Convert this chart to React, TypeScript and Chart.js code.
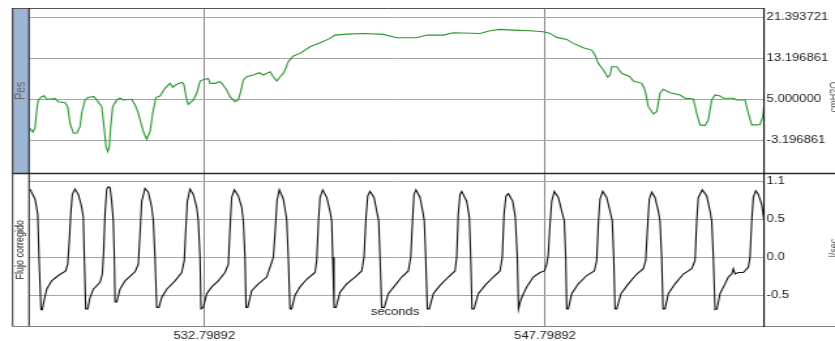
import React, { useEffect, useRef } from 'react';
import { Chart, registerables } from 'chart.js';

Chart.register(...registerables);

// internal canvas is narrower and stretched by CSS to 835px (reference looks horizontally stretched)
const W = 640;
const H = 341;
const SX = 835 / W;

// ---- time axis ----
const xMin = 525.081;
const xMax = 557.441;
const xTickValues = [532.79892, 547.79892];
const xTickLabels = ['532.79892', '547.79892'];

// ---- Pes panel ----
const pesMin = -9.8;
const pesMax = 23.2;
const pesTickValues = [-3.196861, 5.0, 13.196861, 21.393721];
const pesTickLabels = ['-3.196861', '5.000000', '13.196861', '21.393721'];

const pesTime = [
  525.125, 525.244, 525.345, 525.420, 525.490, 525.640, 525.741, 525.860, 526.226, 526.371,
  526.666, 526.785, 526.886, 527.031, 527.181, 527.326, 527.401, 527.547, 527.692, 527.943,
  528.062, 528.282, 528.383, 528.471, 528.546, 528.617, 528.678, 528.766, 528.942, 529.087,
  529.233, 529.603, 529.748, 529.893, 530.113, 530.263, 530.408, 530.527, 530.672, 530.849,
  531.069, 531.289, 531.408, 531.584, 531.830, 531.905, 532.024, 532.094, 532.314, 532.464,
  532.609, 532.830, 532.975, 533.050, 533.270, 533.490, 533.565, 533.785, 533.930, 534.150,
  534.296, 534.402, 534.516, 534.666, 534.956, 535.220, 535.397, 535.692, 535.837, 535.987,
  536.132, 536.277, 536.352, 536.497, 536.717, 537.012, 537.452, 537.893, 538.333, 538.553,
  539.068, 539.799, 540.680, 541.270, 542.150, 542.591, 543.322, 543.762, 544.937, 545.377,
  545.818, 546.404, 547.139, 547.725, 548.019, 548.314, 548.755, 549.045, 549.486, 549.855,
  550.000, 550.146, 550.366, 550.560, 550.661, 550.736, 550.956, 551.176, 551.542, 551.687,
  552.057, 552.202, 552.347, 552.567, 552.717, 552.862, 553.007, 553.302, 553.742, 553.962,
  554.328, 554.478, 554.624, 554.844, 554.989, 555.139, 555.284, 555.504, 555.650, 556.090,
  556.240, 556.605, 556.750, 556.900, 557.120, 557.265, 557.384, 557.441,
];
const pesValue = [
  -0.77, -1.57, -0.77, 2.87, 4.86, 5.52, 5.72, 5.00, 5.12, 4.52,
  4.32, 3.53, 0.22, -1.77, -1.77, -0.45, 2.21, 4.86, 5.40, 5.52,
  4.86, 3.53, -0.45, -4.43, -5.43, -4.43, -0.45, 3.53, 4.86, 5.20,
  4.86, 5.00, 3.87, 2.21, -1.45, -2.96, -1.45, 2.21, 5.40, 5.66,
  7.19, 8.18, 7.39, 7.99, 8.38, 7.85, 4.86, 4.00, 4.86, 6.19,
  8.64, 9.04, 9.10, 8.18, 8.18, 8.50, 8.18, 6.85, 5.52, 4.52,
  4.86, 6.51, 8.84, 9.50, 9.84, 10.29, 9.84, 10.49, 9.50, 8.64,
  9.45, 10.17, 10.83, 12.50, 13.62, 14.15, 15.47, 16.26, 17.14, 17.80,
  18.00, 18.13, 17.94, 17.26, 17.26, 17.80, 17.80, 18.25, 18.13, 18.65,
  18.93, 18.79, 18.65, 18.45, 18.13, 17.34, 16.94, 16.14, 15.27, 14.81,
  13.82, 12.16, 10.83, 9.38, 9.84, 11.49, 11.49, 10.17, 9.50, 8.64,
  8.18, 6.85, 3.53, 2.07, 2.53, 6.19, 6.99, 6.31, 5.86, 5.20,
  5.06, 2.21, -0.11, -0.25, 0.88, 4.86, 5.86, 5.66, 5.20, 5.20,
  4.86, 4.86, 2.21, -0.11, -0.11, -0.05, 1.54, 3.67,
];

// ---- Flujo corregido panel ----
const flowMin = -0.906;
const flowMax = 1.106;
const flowTickValues = [-0.5, 0.0, 0.5, 1.0];
const flowTickLabels = ['-0.5', '0.0', '0.5', '1.1'];

const flowTime = [
  525.125, 525.345, 525.464, 525.521, 525.565, 525.609, 525.667, 525.755, 525.860, 526.080,
  526.371, 526.697, 526.785, 526.855, 526.917, 526.987, 527.106, 527.252, 527.401, 527.472,
  527.516, 527.577, 527.665, 527.767, 527.912, 528.207, 528.308, 528.370, 528.427, 528.502,
  528.572, 528.647, 528.722, 528.792, 528.837, 528.867, 528.942, 529.087, 529.308, 529.748,
  529.893, 529.968, 530.043, 530.188, 530.333, 530.483, 530.554, 530.628, 530.703, 530.804,
  530.923, 531.143, 531.509, 531.804, 531.918, 531.980, 532.050, 532.169, 532.314, 532.464,
  532.534, 532.609, 532.653, 532.755, 532.904, 533.125, 533.415, 533.710, 533.856, 533.930,
  534.005, 534.120, 534.296, 534.446, 534.516, 534.591, 534.635, 534.710, 534.886, 535.176,
  535.546, 535.837, 535.912, 536.000, 536.101, 536.277, 536.427, 536.497, 536.572, 536.647,
  536.792, 537.012, 537.307, 537.673, 537.748, 537.818, 537.893, 538.012, 538.188, 538.333,
  538.408, 538.452, 538.509, 538.597, 538.773, 539.068, 539.434, 539.729, 539.830, 539.918,
  539.993, 540.094, 540.270, 540.389, 540.477, 540.534, 540.609, 540.724, 540.900, 541.195,
  541.490, 541.780, 541.886, 541.974, 542.031, 542.119, 542.295, 542.414, 542.485, 542.546,
  542.617, 542.705, 542.881, 543.176, 543.541, 543.836, 543.911, 543.981, 544.056, 544.131,
  544.351, 544.466, 544.527, 544.585, 544.673, 544.862, 545.157, 545.522, 545.817, 545.918,
  545.993, 546.081, 546.183, 546.377, 546.491, 546.579, 546.632, 546.698, 546.773, 546.993,
  547.284, 547.579, 547.768, 547.874, 547.944, 548.019, 548.094, 548.208, 548.384, 548.534,
  548.649, 548.710, 548.754, 548.825, 548.974, 549.265, 549.635, 549.969, 550.075, 550.145,
  550.220, 550.339, 550.515, 550.661, 550.762, 550.824, 550.881, 550.956, 551.145, 551.467,
  551.836, 552.127, 552.233, 552.321, 552.391, 552.497, 552.642, 552.788, 552.862, 552.937,
  552.995, 553.083, 553.228, 553.523, 553.888, 554.258, 554.403, 554.478, 554.549, 554.725,
  554.918, 555.064, 555.139, 555.209, 555.284, 555.372, 555.504, 555.724, 555.870, 556.019,
  556.089, 556.164, 556.309, 556.530, 556.750, 556.825, 556.900, 556.970, 557.076, 557.190,
  557.340, 557.441,
];
const flowValue = [
  0.90, 0.77, 0.57, 0.00, -0.35, -0.69, -0.69, -0.55, -0.42, -0.31,
  -0.24, -0.18, -0.09, 0.22, 0.57, 0.83, 0.90, 0.83, 0.66, 0.53,
  0.00, -0.68, -0.68, -0.53, -0.42, -0.33, -0.22, 0.09, 0.57, 0.90,
  0.93, 0.92, 0.74, 0.48, 0.00, -0.59, -0.59, -0.42, -0.31, -0.19,
  -0.09, 0.31, 0.74, 0.91, 0.86, 0.66, 0.48, 0.00, -0.66, -0.66,
  -0.53, -0.42, -0.31, -0.20, -0.04, 0.35, 0.74, 0.90, 0.83, 0.66,
  0.48, 0.00, -0.68, -0.66, -0.48, -0.39, -0.31, -0.20, -0.09, 0.39,
  0.79, 0.89, 0.81, 0.66, 0.48, 0.00, -0.66, -0.66, -0.44, -0.35,
  -0.26, 0.00, 0.31, 0.75, 0.89, 0.77, 0.50, 0.00, -0.68, -0.68,
  -0.50, -0.39, -0.29, -0.20, -0.04, 0.44, 0.79, 0.89, 0.79, 0.61,
  0.48, 0.00, -0.66, -0.66, -0.46, -0.35, -0.26, -0.18, 0.00, 0.53,
  0.81, 0.87, 0.79, 0.61, 0.48, 0.00, -0.66, -0.66, -0.48, -0.37,
  -0.26, -0.18, 0.00, 0.53, 0.83, 0.89, 0.79, 0.61, 0.48, 0.00,
  -0.68, -0.68, -0.48, -0.37, -0.26, -0.18, 0.00, 0.57, 0.83, 0.87,
  0.74, 0.53, 0.00, -0.68, -0.68, -0.48, -0.37, -0.26, -0.18, 0.00,
  0.57, 0.81, 0.84, 0.74, 0.53, 0.00, -0.68, -0.60, -0.53, -0.39,
  -0.26, -0.20, -0.18, -0.09, 0.04, 0.44, 0.74, 0.87, 0.79, 0.61,
  0.48, 0.00, -0.68, -0.68, -0.48, -0.35, -0.24, -0.18, -0.04, 0.44,
  0.77, 0.87, 0.79, 0.61, 0.48, 0.00, -0.68, -0.68, -0.48, -0.35,
  -0.22, -0.15, -0.04, 0.44, 0.77, 0.86, 0.79, 0.61, 0.48, 0.00,
  -0.68, -0.68, -0.48, -0.35, -0.22, -0.15, -0.04, 0.48, 0.79, 0.89,
  0.81, 0.61, 0.48, 0.00, -0.69, -0.68, -0.48, -0.35, -0.26, -0.22,
  -0.15, -0.22, -0.20, -0.20, -0.13, 0.00, 0.48, 0.79, 0.88, 0.83,
  0.70, 0.48,
];

const pesLabel = 'Pes';
const flowLabel = 'Flujo corregido';
const xTitle = 'seconds';
const pesUnit = 'cmH2O';
const flowUnit = 'l/sec';

const TICK_FONT = { family: '"Liberation Sans", Arial, sans-serif', size: 10 };

export default function App() {
  const ref = useRef<HTMLCanvasElement>(null);

  useEffect(() => {
    const canvas = ref.current;
    if (!canvas) return;
    const r = (v: number) => v / SX; // reference px -> internal px

    const framePlugin = {
      id: 'frame',
      beforeDraw(chart: any) {
        const { ctx, chartArea } = chart;
        const split = chart.scales.yPes.bottom;
        ctx.save();
        ctx.fillStyle = '#ffffff';
        ctx.fillRect(0, 0, chart.width, chart.height);
        ctx.fillStyle = '#9cb5d4';
        ctx.fillRect(r(12), chartArea.top, chartArea.left - r(12), split - chartArea.top);
        ctx.restore();
      },
      afterDraw(chart: any) {
        const { ctx, chartArea: A } = chart;
        const split = chart.scales.yPes.bottom;
        const L = r(12);
        const line = (x1: number, y1: number, x2: number, y2: number, c: string, w: number) => {
          ctx.beginPath();
          ctx.strokeStyle = c;
          ctx.lineWidth = w;
          ctx.moveTo(x1, y1);
          ctx.lineTo(x2, y2);
          ctx.stroke();
        };
        ctx.save();
        line(L, A.top + 0.5, A.right, A.top + 0.5, '#555', 1);
        line(L, split, chart.width, split, '#2a2a2a', 1.6);
        line(L, A.bottom + 0.5, chart.width, A.bottom + 0.5, '#808080', 1);
        line(L + 0.5, A.top, L + 0.5, A.bottom, '#333', 1);
        line(A.left, A.top, A.left, A.bottom, '#111', 1);
        line(A.right, A.top, A.right, A.bottom + 1, '#111', 1.1);

        const rot = (t: string, x: number, y: number, font: string, color: string, base: CanvasTextBaseline) => {
          ctx.save();
          ctx.translate(x, y);
          ctx.rotate(-Math.PI / 2);
          ctx.font = font;
          ctx.fillStyle = color;
          ctx.textAlign = 'center';
          ctx.textBaseline = base;
          ctx.fillText(t, 0, 0);
          ctx.restore();
        };
        const cx = (L + A.left) / 2;
        rot(pesLabel, cx, (A.top + split) / 2, '10.5px "Liberation Sans"', '#666', 'middle');
        rot(flowLabel, cx, (split + A.bottom) / 2, '9px "Liberation Sans"', '#222', 'middle');
        rot(pesUnit, r(838), 97, '9px "Liberation Sans"', '#555', 'alphabetic');
        rot(flowUnit, r(838), 248, '9px "Liberation Sans"', '#555', 'alphabetic');

        ctx.font = '10px "Liberation Sans"';
        ctx.fillStyle = '#222';
        ctx.textAlign = 'center';
        ctx.textBaseline = 'middle';
        ctx.fillText(xTitle, r(395), 312);
        ctx.restore();
      },
    };

    const chart = new Chart(canvas, {
      type: 'line',
      data: {
        datasets: [
          {
            data: pesTime.map((t, i) => ({ x: t, y: pesValue[i] })),
            yAxisID: 'yPes',
            borderColor: '#27982b',
            borderWidth: 1.1,
            pointRadius: 0,
            tension: 0,
            fill: false,
          },
          {
            data: flowTime.map((t, i) => ({ x: t, y: flowValue[i] })),
            yAxisID: 'yFlow',
            borderColor: '#111111',
            borderWidth: 1.1,
            pointRadius: 0,
            tension: 0,
            fill: false,
          },
        ],
      },
      options: {
        animation: false,
        responsive: false,
        maintainAspectRatio: false,
        devicePixelRatio: 1,
        layout: { padding: { left: r(29), top: 8, right: 0, bottom: 0 } },
        plugins: { legend: { display: false }, tooltip: { enabled: false } },
        scales: {
          x: {
            type: 'linear',
            position: 'bottom',
            min: xMin,
            max: xMax,
            afterBuildTicks: (s: any) => {
              s.ticks = xTickValues.map((v) => ({ value: v }));
            },
            afterFit: (s: any) => {
              s.height = 15;
            },
            ticks: {
              autoSkip: false,
              maxRotation: 0,
              padding: 4,
              font: TICK_FONT,
              color: '#222',
              callback: (_v: any, i: number) => xTickLabels[i],
            },
            grid: { color: '#8c8c8c', lineWidth: 1, drawTicks: false },
            border: { display: false },
          },
          yPes: {
            type: 'linear',
            position: 'right',
            stack: 'panels',
            stackWeight: 165.5,
            min: pesMin,
            max: pesMax,
            afterBuildTicks: (s: any) => {
              s.ticks = pesTickValues.map((v) => ({ value: v }));
            },
            afterFit: (s: any) => {
              s.width = W - r(764);
            },
            ticks: {
              autoSkip: false,
              padding: 2,
              font: TICK_FONT,
              color: '#222',
              callback: (_v: any, i: number) => pesTickLabels[i],
            },
            grid: { color: '#a6a6a6', lineWidth: 1, drawTicks: false },
            border: { display: false },
          },
          yFlow: {
            type: 'linear',
            position: 'right',
            stack: 'panels',
            stackWeight: 152.5,
            min: flowMin,
            max: flowMax,
            afterBuildTicks: (s: any) => {
              s.ticks = flowTickValues.map((v) => ({ value: v }));
            },
            afterFit: (s: any) => {
              s.width = W - r(764);
            },
            ticks: {
              autoSkip: false,
              padding: 2,
              font: TICK_FONT,
              color: '#222',
              callback: (_v: any, i: number) => flowTickLabels[i],
            },
            grid: { color: '#a6a6a6', lineWidth: 1, drawTicks: false },
            border: { display: false },
          },
        },
      } as any,
      plugins: [framePlugin],
    });

    return () => {
      chart.destroy();
    };
  }, []);

  return (
    <div style={{ position: 'fixed', left: 0, top: 0, width: 835, height: 341, background: '#fff' }}>
      <canvas
        ref={ref}
        width={W}
        height={H}
        style={{ width: '835px', height: '341px', display: 'block' }}
      />
    </div>
  );
}
